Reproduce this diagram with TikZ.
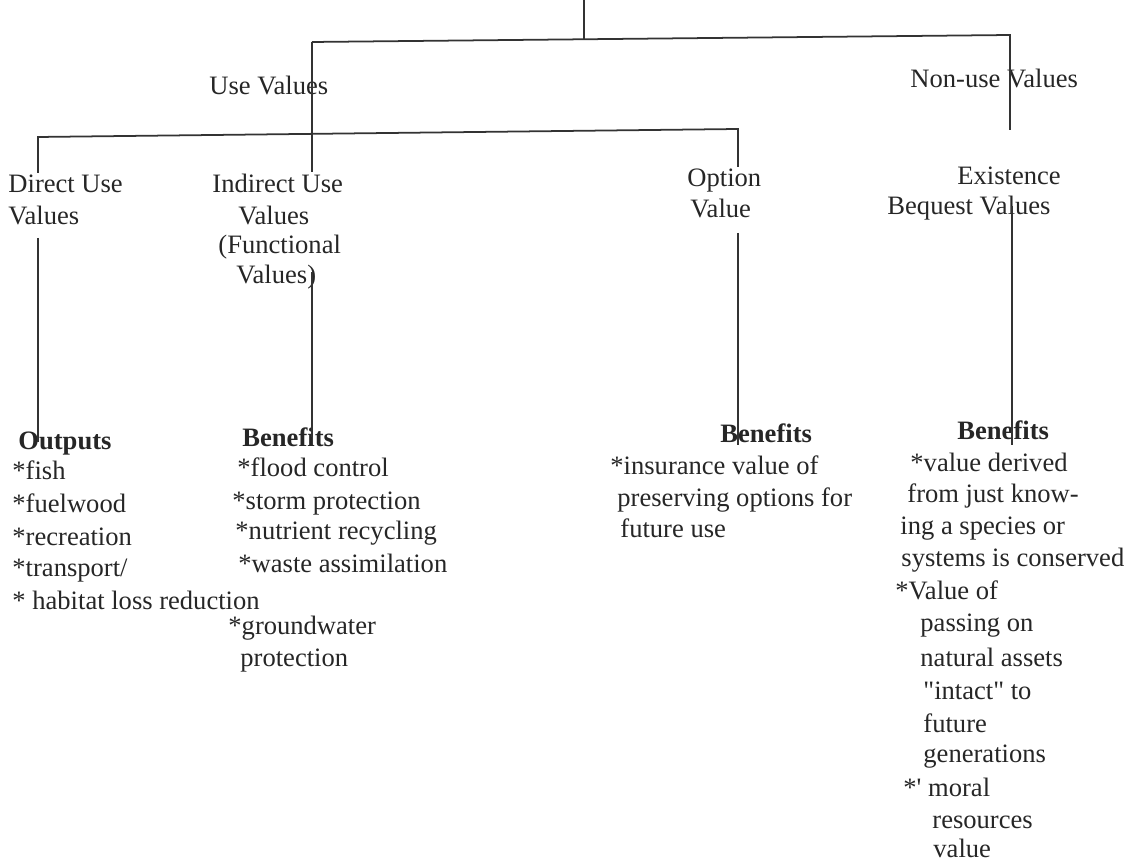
\documentclass[tikz,border=0pt]{standalone}
\usepackage{fontspec}
\setmainfont{Liberation Serif}
\newfontfamily\plainrm{Liberation Serif}
\usetikzlibrary{calc}
\begin{document}
\begin{tikzpicture}[x=0.016cm,y=-0.016cm,
  txt/.style={inner sep=0pt,anchor=base west,text=black!85,font=\plainrm\fontsize{12.1}{14}\selectfont},
  hd/.style={txt,font=\plainrm\fontsize{12.1}{14}\selectfont\bfseries},
  ln/.style={black!80,line width=0.8pt}]
\useasboundingbox (0,0) rectangle (1131,863);
\coordinate (top) at (584,0);
\coordinate (tj) at (584,39);
\coordinate (uj) at (312,42);
\coordinate (nj) at (1010,35);
\coordinate (ue) at (312,172);
\coordinate (ne) at (1010,130);
\coordinate (dj) at (38,137);
\coordinate (oj) at (738,129);
\coordinate (de) at (38,173);
\coordinate (oe) at (738,167);
\coordinate (d1) at (38,238);
\coordinate (d2) at (38,442);
\coordinate (i1) at (312,272);
\coordinate (i2) at (312,437);
\coordinate (p1) at (738,233);
\coordinate (p2) at (738,445);
\coordinate (e1) at (1012,206);
\coordinate (e2) at (1012,445);
\node[txt] (use) at (209,95) {Use Values};
\node[txt] (nonuse) at (910,88) {Non-use Values};
\node[txt] (dir1) at (8,193) {Direct Use};
\node[txt] (dir2) at (8,225) {Values};
\foreach \x/\y/\t [count=\i] in {212/193/{Indirect Use},238/225/{Values},218/254/{(Functional},236/284/{Values)}}
  \node[txt] (ind\i) at (\x,\y) {\t};
\node[txt] (opt1) at (687,187) {Option};
\node[txt] (opt2) at (690,218) {Value};
\node[txt] (ex1) at (957,185) {Existence};
\node[txt] (ex2) at (887,215) {Bequest Values};
\node[hd] (outp) at (18,450) {Outputs};
\foreach \x/\y/\t [count=\i] in {12/480/{*fish},12/513/{*fuelwood},12/546/{*recreation},12/577/{*transport/},12/610/{* habitat loss reduction}}
  \node[txt] (o\i) at (\x,\y) {\t};
\node[hd] (bena) at (242,447) {Benefits};
\foreach \x/\y/\t [count=\i] in {237/477/{*flood control},232/510/{*storm protection},235/540/{*nutrient recycling},238/573/{*waste assimilation},228/635/{*groundwater},240/667/{protection}}
  \node[txt] (a\i) at (\x,\y) {\t};
\node[hd] (benb) at (720,443) {Benefits};
\foreach \x/\y/\t [count=\i] in {610/475/{*insurance value of},617/507/{preserving options for},620/538/{future use}}
  \node[txt] (b\i) at (\x,\y) {\t};
\node[hd] (benc) at (957,440) {Benefits};
\foreach \x/\y/\t [count=\i] in {910/472/{*value derived},907/503/{from just know-},900/535/{ing a species or},901/567/{systems is conserved},895/600/{*Value of},920/632/{passing on},920/667/{natural assets},923/700/{"intact" to},923/733/{future},923/763/{generations},903/797/{*' moral},932/828/{resources},933/858/{value}}
  \node[txt] (c\i) at (\x,\y) {\t};
\draw[ln] (top)--(tj);
\draw[ln] (uj)--(nj)--(ne);
\draw[ln] (uj)--(ue);
\draw[ln] (de)--(dj)--(oj)--(oe);
\draw[ln] (d1)--(d2);
\draw[ln] (i1)--(i2);
\draw[ln] (p1)--(p2);
\draw[ln] (e1)--(e2);
\end{tikzpicture}
\end{document}
